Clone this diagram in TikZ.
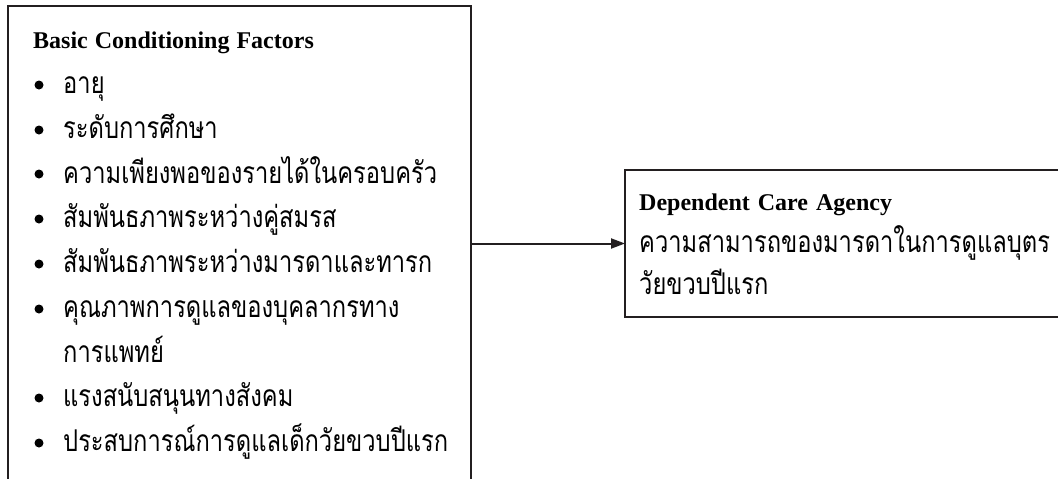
\documentclass[tikz,border=0pt]{standalone}
\usepackage{fontspec}
\setmainfont{Liberation Serif}
\newfontfamily\thaifont[Script=Thai,FakeStretch=0.79]{Loma}
\usetikzlibrary{arrows.meta}
\definecolor{ink}{HTML}{231F20}
\begin{document}
\begin{tikzpicture}[x=1pt,y=-1pt,
  frame/.style={draw=ink, line width=2pt, inner sep=0pt, outer sep=0pt},
  titletext/.style={font=\bfseries\fontsize{24}{24}\selectfont, anchor=base west, inner sep=0pt},
  thaitext/.style={font=\thaifont\fontsize{30}{30}\selectfont, anchor=base west, inner sep=0pt},
  dot/.style={circle, fill=black, minimum size=9pt, inner sep=0pt},
  link/.style={draw=ink, line width=2pt, -{Triangle[length=14pt,width=10pt]}}]
\useasboundingbox (0,0) rectangle (1058,479);
\clip (0,0) rectangle (1058,479);
% boxes
\node[frame, minimum width=463pt, minimum height=560pt, anchor=north west] (factors) at (8,6) {};
\node[frame, minimum width=480pt, minimum height=147pt, anchor=north west] (agency) at (625,170) {};
% left box content
\node[titletext] (ftitle) at (33,48) {Basic\hspace{1pt} Conditioning\hspace{1pt} Factors};
\node[dot] (d1) at (39,85) {};  \node[thaitext] (f1) at (63,93) {อายุ};
\node[dot] (d2) at (39,130) {}; \node[thaitext] (f2) at (63,138) {ระดับการศึกษา};
\node[dot] (d3) at (39,174) {}; \node[thaitext] (f3) at (63,183) {ความเพียงพอของรายได้ในครอบครัว};
\node[dot] (d4) at (39,219) {}; \node[thaitext] (f4) at (63,227) {สัมพันธภาพระหว่างคู่สมรส};
\node[dot] (d5) at (39,264) {}; \node[thaitext] (f5) at (63,272) {สัมพันธภาพระหว่างมารดาและทารก};
\node[dot] (d6) at (39,309) {}; \node[thaitext] (f6) at (63,317) {คุณภาพการดูแลของบุคลากรทาง};
\node[thaitext] (f6b) at (63,362) {การแพทย์};
\node[dot] (d7) at (39,398) {}; \node[thaitext] (f7) at (63,406) {แรงสนับสนุนทางสังคม};
\node[dot] (d8) at (39,443) {}; \node[thaitext] (f8) at (63,451) {ประสบการณ์การดูแลเด็กวัยขวบปีแรก};
% right box content
\node[titletext] (atitle) at (639,210) {Dependent\hspace{2pt} Care\hspace{2pt} Agency};
\node[thaitext] (a1) at (639,252) {ความสามารถของมารดาในการดูแลบุตร};
\node[thaitext] (a2) at (639,294) {วัยขวบปีแรก};
% connector
\draw[link] (factors.east |- agency.west) -- (agency.west);
\end{tikzpicture}
\end{document}
